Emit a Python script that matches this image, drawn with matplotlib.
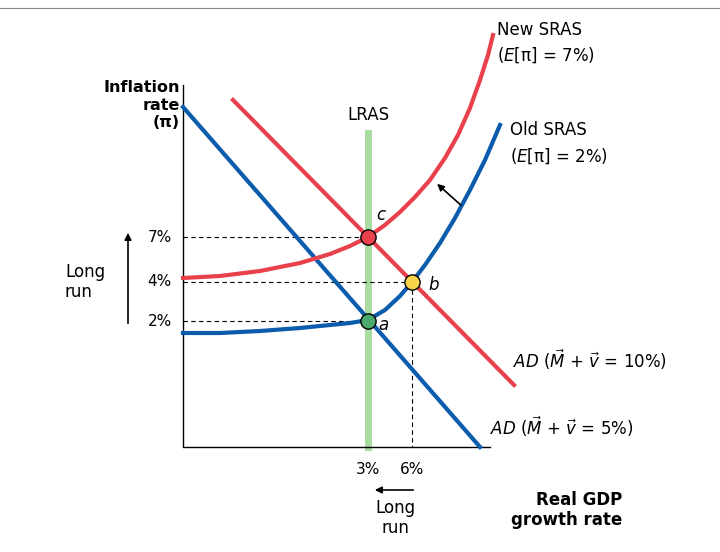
import matplotlib
matplotlib.use("Agg")
import matplotlib.pyplot as plt
import numpy as np

# schematic diagram coordinates (pixel-like units)
old_sras_x = [183, 220, 260, 300, 330, 350, 368, 385, 400, 412, 425, 440, 455, 470, 485, 500]
old_sras_y = [333, 333, 331, 328, 325, 323, 320, 310, 296, 282, 265, 243, 218, 190, 160, 125]
new_sras_x = [183, 220, 260, 300, 330, 350, 368, 385, 400, 415, 430, 445, 458, 470, 480, 488, 493]
new_sras_y = [278, 276, 271, 263, 254, 246, 237, 225, 212, 197, 180, 158, 135, 108, 80, 55, 35]
old_ad_x = [183, 480]
old_ad_y = [107, 447]
new_ad_x = [233, 514]
new_ad_y = [100, 385]
lras_x = 368
eq_x = [368, 412, 368]
eq_y = [237, 282, 321]
eq_labels = ["c", "b", "a"]
eq_colors = ["#e8414b", "#f7d44a", "#4aa96c"]
ytick_pos = [237, 282, 321]
ytick_labels = ["7%", "4%", "2%"]
xtick_pos = [368, 412]
xtick_labels = ["3%", "6%"]

RED = "#e8414b"
BLUE = "#0b5cad"

fig = plt.figure(figsize=(7.2, 5.52), dpi=100)
ax = fig.add_axes([0, 0, 1, 1])
ax.set_xlim(0, 720)
ax.set_ylim(552, 0)
ax.axis("off")

ax.plot([0, 720], [8, 8], color="#888888", lw=0.8)
ax.plot([183, 183, 490], [85, 447, 447], color="black", lw=1)

ax.plot([lras_x, lras_x], [133, 447], color="#a8dca0", lw=5, zorder=1)

for yp, xe in zip(ytick_pos, [368, 412, 368]):
    ax.plot([183, xe], [yp, yp], color="black", lw=0.8, ls=(0, (4, 3)), zorder=2)
ax.plot([412, 412], [282, 447], color="black", lw=0.8, ls=(0, (4, 3)), zorder=2)

ax.plot(old_ad_x, old_ad_y, color=BLUE, lw=3, zorder=3)
ax.plot(new_ad_x, new_ad_y, color=RED, lw=3, zorder=3)
ax.plot(old_sras_x, old_sras_y, color=BLUE, lw=3, zorder=3, solid_joinstyle="round")
ax.plot(new_sras_x, new_sras_y, color=RED, lw=3, zorder=3, solid_joinstyle="round")

for x, y, c in zip(eq_x, eq_y, eq_colors):
    ax.scatter([x], [y], s=120, color=c, edgecolor="black", lw=1, zorder=5)
ax.text(376, 220, "c", fontsize=12, style="italic")
ax.text(428, 290, "b", fontsize=12, style="italic")
ax.text(378, 330, "a", fontsize=12, style="italic")

for yp, lab in zip(ytick_pos, ytick_labels):
    ax.text(172, yp, lab, ha="right", va="center", fontsize=11)
for xp, lab in zip(xtick_pos, xtick_labels):
    ax.text(xp, 470, lab, ha="center", va="center", fontsize=11)

ax.annotate("", xy=(435, 182), xytext=(463, 207),
            arrowprops=dict(arrowstyle="-|>", color="black", lw=1.2))
ax.annotate("", xy=(128, 230), xytext=(128, 326),
            arrowprops=dict(arrowstyle="-|>", color="black", lw=1.2))
ax.annotate("", xy=(372, 490), xytext=(416, 490),
            arrowprops=dict(arrowstyle="-|>", color="black", lw=1.2))

ax.text(180, 105, "Inflation\nrate\n(π)", ha="right", va="center", fontsize=11.5,
        fontweight="bold", linespacing=1.2)
ax.text(368, 115, "LRAS", ha="center", va="center", fontsize=12)
ax.text(65, 282, "Long\nrun", ha="left", va="center", fontsize=12)
ax.text(395, 518, "Long\nrun", ha="center", va="center", fontsize=12)
ax.text(622, 510, "Real GDP\ngrowth rate", ha="right", va="center", fontsize=12,
        fontweight="bold")
ax.text(497, 30, "New SRAS", ha="left", va="center", fontsize=12)
ax.text(497, 55, "($E$[π] = 7%)", ha="left", va="center", fontsize=12)
ax.text(510, 130, "Old SRAS", ha="left", va="center", fontsize=12)
ax.text(510, 156, "($E$[π] = 2%)", ha="left", va="center", fontsize=12)
ax.text(513, 360, r"$AD$ ($\vec{M}$ + $\vec{v}$ = 10%)", ha="left", va="center", fontsize=12)
ax.text(490, 427, r"$AD$ ($\vec{M}$ + $\vec{v}$ = 5%)", ha="left", va="center", fontsize=12)

fig.savefig("out.png", dpi=100)
